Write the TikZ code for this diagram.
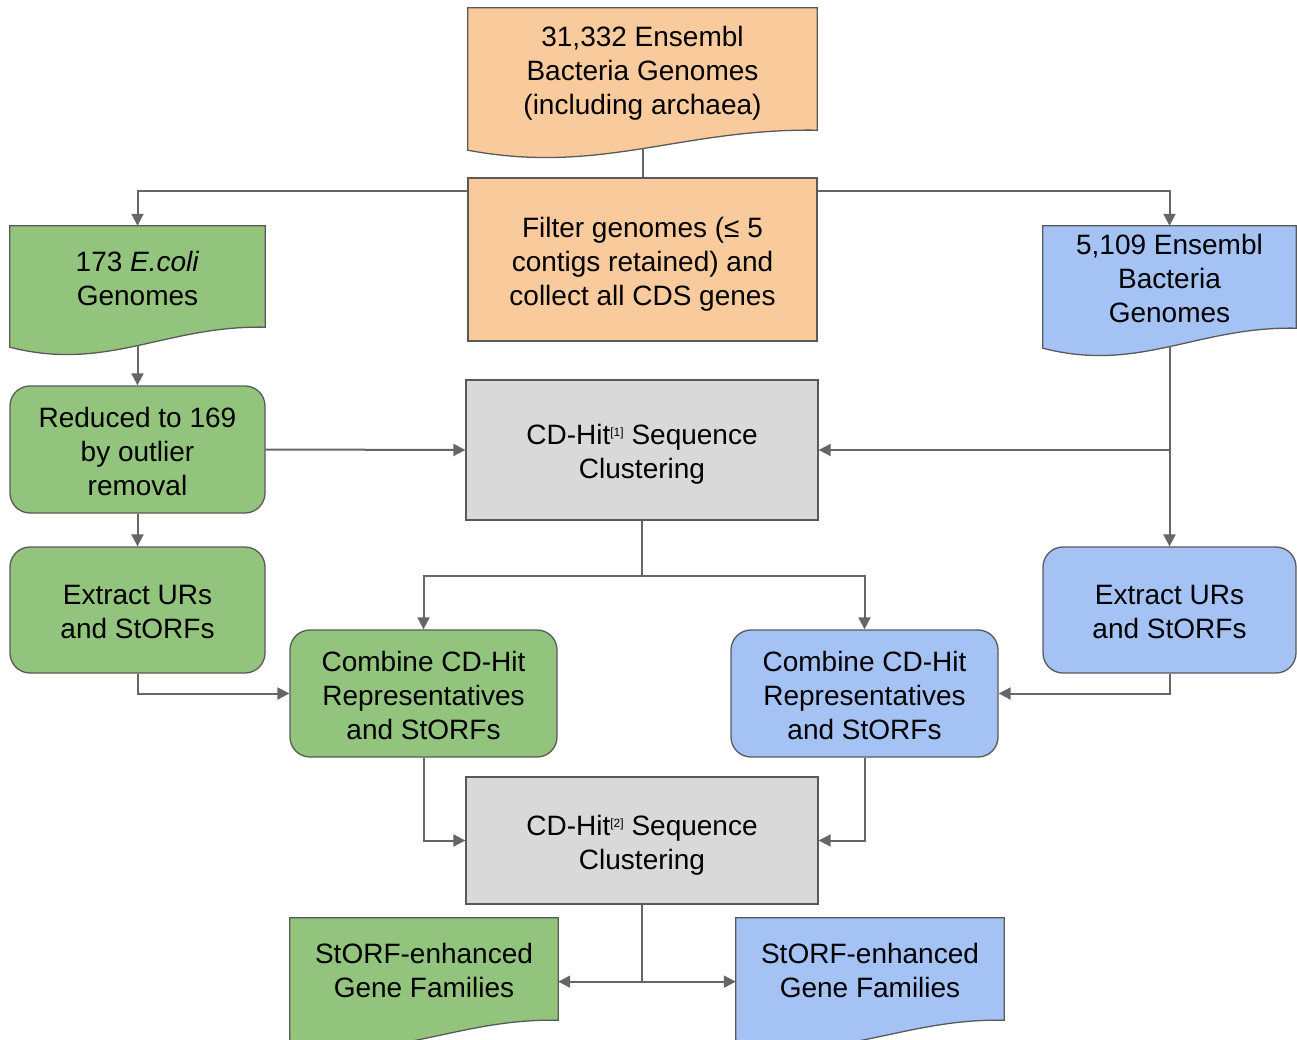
\documentclass[tikz,border=0pt]{standalone}
\usepackage{fontspec}
\setmainfont{Liberation Sans}
\usetikzlibrary{arrows.meta,calc,backgrounds}
\definecolor{orangef}{HTML}{F9CB9C}
\definecolor{greenf}{HTML}{93C47D}
\definecolor{bluef}{HTML}{A4C2F4}
\definecolor{grayf}{HTML}{D9D9D9}
\definecolor{bord}{HTML}{595959}
\definecolor{linec}{HTML}{666666}
\newcommand\txtfont{\fontsize{28}{34}\selectfont}
\newcommand\supref[1]{\raisebox{8pt}{\fontsize{12}{12}\selectfont[#1]}}
\newcommand\ml[1]{\raisebox{0pt}[\dimexpr\height+10pt\relax][\depth]{\begin{tabular}{@{}c@{}}#1\end{tabular}}}
\newcommand\mlt[1]{\raisebox{0pt}[\dimexpr\height+5pt\relax][\dimexpr\depth-5pt\relax]{\begin{tabular}{@{}c@{}}#1\end{tabular}}}
\newcommand\docshape[2]{%
  \path[fill=#2, draw=bord, line width=1.3pt]
    let \p1=(#1.north west), \p2=(#1.south east), \n1={\x2-\x1} in
    (\x1,\y1) -- (\x2,\y1) -- (\x2,\y2)
    .. controls ({\x2-0.39*\n1},{\y2+2pt}) and ({\x1+0.38*\n1},{\y2-45pt}) ..
    (\x1,{\y2-20pt}) -- cycle;}
\tikzset{
  boxbase/.style={inner sep=0pt, font=\txtfont, text=black},
  rectbox/.style={boxbase, draw=bord, line width=1.3pt},
  rbox/.style={rectbox, rounded corners=20pt},
  docnode/.style={boxbase},
  plainline/.style={draw=linec, line width=2pt},
  conn/.style={plainline, -{Triangle[length=12pt,width=12pt]}},
}
\begin{document}
\begin{tikzpicture}[x=1pt,y=-1pt]
\useasboundingbox (0,0) rectangle (1297,1040);
% nodes
\node[docnode, minimum width=349pt, minimum height=122pt] (A) at (642.5,69)
  {\ml{31,332 Ensembl\\Bacteria Genomes\\(including archaea)}};
\node[rectbox, fill=orangef, minimum width=349pt, minimum height=163pt] (B) at (642.5,259.5)
  {\ml{Filter genomes (≤ 5\\contigs retained) and\\collect all CDS genes}};
\node[docnode, minimum width=255pt, minimum height=101pt] (C) at (137.5,276.5)
  {\ml{173 \textit{E.coli}\\Genomes}};
\node[docnode, minimum width=253pt, minimum height=102pt] (D) at (1169.5,277)
  {\mlt{5,109 Ensembl\\Bacteria\\Genomes}};
\node[rbox, fill=greenf, minimum width=255pt, minimum height=127pt] (E) at (137.5,449.5)
  {\ml{Reduced to 169\\by outlier\\removal}};
\node[rectbox, fill=grayf, minimum width=352pt, minimum height=140pt] (F) at (642,450)
  {\ml{CD-Hit\supref{1} Sequence\\Clustering}};
\node[rbox, fill=greenf, minimum width=255pt, minimum height=126pt] (G) at (137.5,610)
  {\ml{Extract URs\\and StORFs}};
\node[rbox, fill=bluef, minimum width=253pt, minimum height=126pt] (H) at (1169.5,610)
  {\ml{Extract URs\\and StORFs}};
\node[rbox, fill=greenf, minimum width=267pt, minimum height=127pt] (I) at (423.5,693.5)
  {\ml{Combine CD-Hit\\Representatives\\and StORFs}};
\node[rbox, fill=bluef, minimum width=267pt, minimum height=127pt] (J) at (864.5,693.5)
  {\ml{Combine CD-Hit\\Representatives\\and StORFs}};
\node[rectbox, fill=grayf, minimum width=352pt, minimum height=127pt] (K) at (642,840.5)
  {\ml{CD-Hit\supref{2} Sequence\\Clustering}};
\node[docnode, minimum width=268pt, minimum height=102pt] (L) at (424,969)
  {\ml{StORF-enhanced\\Gene Families}};
\node[docnode, minimum width=268pt, minimum height=102pt] (M) at (870,969)
  {\ml{StORF-enhanced\\Gene Families}};
% document shapes
\begin{scope}[on background layer]
  \docshape{A}{orangef}
  \docshape{C}{greenf}
  \docshape{D}{bluef}
  \docshape{L}{greenf}
  \docshape{M}{bluef}
\end{scope}
% helper coordinates
\coordinate (Ab) at ($(A.south)+(0,18)$);
\coordinate (Cb) at ($(C.south)+(0,18)$);
\coordinate (Db) at ($(D.south)+(0,18)$);
\coordinate (Bl) at ($(B.north west)+(0,14)$);
\coordinate (Br) at ($(B.north east)+(0,14)$);
\coordinate (Fs) at ($(F.south)+(0,55)$);
\coordinate (Ks) at ($(K.south)+(0,77)$);
% connectors
\draw[plainline] (Ab) -- (B.north);
\draw[conn] (Bl) -| (C.north);
\draw[conn] (Br) -| (D.north);
\draw[conn] (Cb) -- (E.north);
\draw[conn] (E.east) -- (F.west);
\draw[conn] (Db) -- (H.north);
\draw[conn] (Db |- F.east) -- (F.east);
\draw[conn] (E.south) -- (G.north);
\draw[plainline] (F.south) -- (Fs);
\draw[conn] (Fs) -| (I.north);
\draw[conn] (Fs) -| (J.north);
\draw[conn] (G.south) |- (I.west);
\draw[conn] (H.south) |- (J.east);
\draw[conn] (I.south) |- (K.west);
\draw[conn] (J.south) |- (K.east);
\draw[plainline] (K.south) -- (Ks);
\draw[conn] (Ks) -- (Ks -| L.east);
\draw[conn] (Ks) -- (Ks -| M.west);
\end{tikzpicture}
\end{document}
